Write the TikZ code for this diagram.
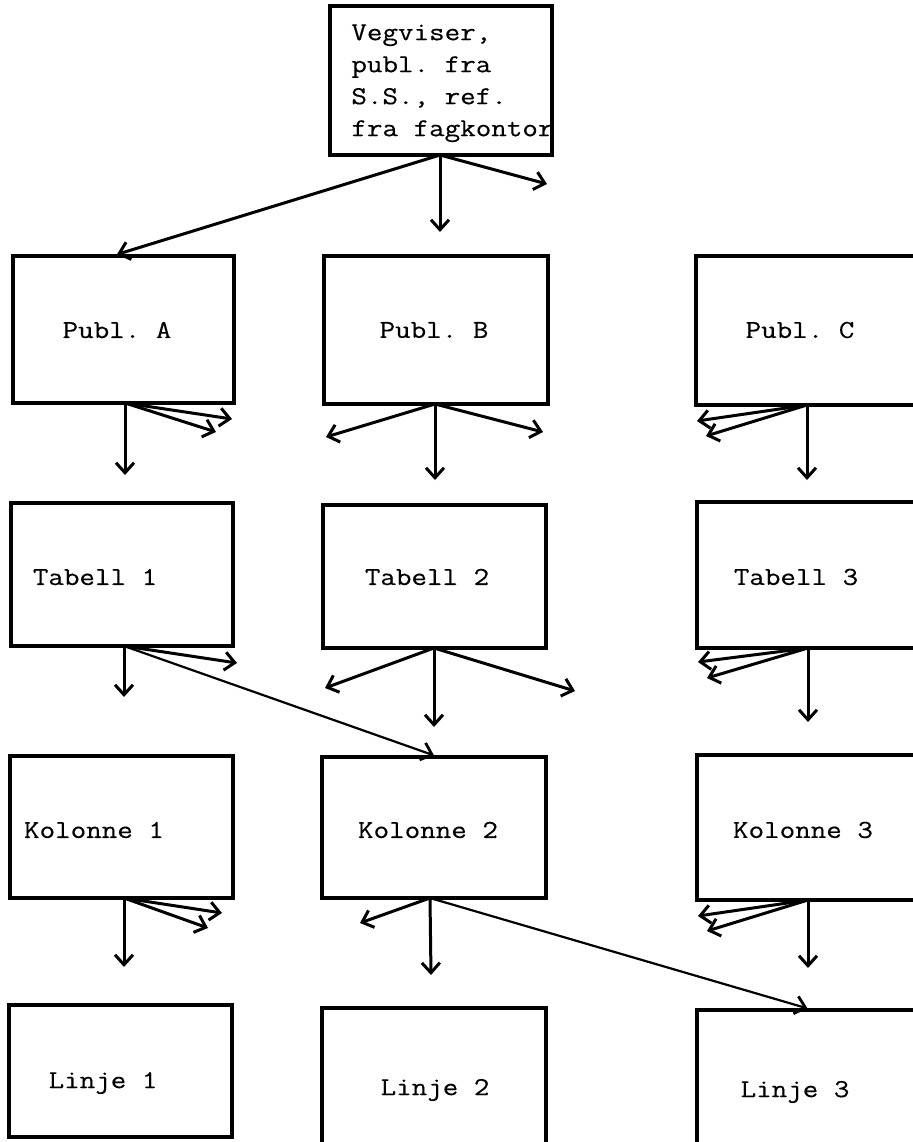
\documentclass[tikz,border=0pt]{standalone}
\usepackage{fontspec}
\setmonofont[FakeStretch=1.17,FakeBold=0.35]{Latin Modern Mono}
\usetikzlibrary{arrows.meta}
\tikzset{
  box/.style={draw, line width=1.6pt, inner sep=0pt},
  lbl/.style={font=\ttfamily\fontsize{12.9}{16}\selectfont, inner sep=0pt},
  arr/.style={line width=1.5pt, line cap=round, -{Straight Barb[length=5pt,width=9pt,line width=1.5pt]}},
  thinarr/.style={line width=1.1pt, line cap=round, -{Straight Barb[length=5pt,width=9pt,line width=1.4pt]}},
}
\begin{document}
\begin{tikzpicture}[x=0.5pt,y=-0.5pt]
\useasboundingbox[fill=white] (0,0) rectangle (912,1142);
% boxes
\node[box, minimum width=111pt, minimum height=74.5pt] (top) at (441,80.5) {};
\node[box, minimum width=110.5pt, minimum height=73.5pt] (pa) at (123.5,329.5) {};
\node[box, minimum width=112pt, minimum height=74pt] (pb) at (436,330) {};
\node[box, minimum width=111pt, minimum height=74.5pt] (pc) at (807,330.5) {};
\node[box, minimum width=111pt, minimum height=71.5pt] (t1) at (122,574.5) {};
\node[box, minimum width=111.5pt, minimum height=71.5pt] (t2) at (434.5,576.5) {};
\node[box, minimum width=110.5pt, minimum height=73pt] (t3) at (807.5,575) {};
\node[box, minimum width=111.5pt, minimum height=71pt] (k1) at (121.5,827) {};
\node[box, minimum width=112pt, minimum height=70.5pt] (k2) at (434,827.5) {};
\node[box, minimum width=110.5pt, minimum height=72.5pt] (k3) at (807.5,827.5) {};
\node[box, minimum width=111.5pt, minimum height=66pt] (l1) at (120.5,1071) {};
\node[box, minimum width=112pt, minimum height=71pt] (l2) at (434,1079) {};
\node[box, minimum width=110.5pt, minimum height=70pt] (l3) at (807.5,1080) {};
% texts
\node[lbl, anchor=north west, align=left] (topt) at (351,24) {Vegviser,\\publ. fra\\S.S., ref.\\fra fagkontor};
\node[lbl] (pat) at (117,330) {Publ. A};
\node[lbl] (pbt) at (434,330) {Publ. B};
\node[lbl] (pct) at (800,330) {Publ. C};
\node[lbl] (t1t) at (95,577) {Tabell 1};
\node[lbl] (t2t) at (427,577) {Tabell 2};
\node[lbl] (t3t) at (796,577) {Tabell 3};
\node[lbl] (k1t) at (94,830) {Kolonne 1};
\node[lbl] (k2t) at (428,830) {Kolonne 2};
\node[lbl] (k3t) at (803,830) {Kolonne 3};
\node[lbl] (l1t) at (103,1083) {Linje 1};
\node[lbl] (l2t) at (435,1090) {Linje 2};
\node[lbl] (l3t) at (795,1092) {Linje 3};
% arrow origins
\coordinate (o0) at (440,155);
\coordinate (oa) at (125,403);
\coordinate (ob) at (435,404);
\coordinate (oc) at (807,405);
\coordinate (o1) at (124,646);
\coordinate (o2) at (434,648);
\coordinate (o3) at (808,648);
\coordinate (ok1) at (124,898);
\coordinate (ok2) at (430,898);
\coordinate (ok3) at (808,900);
% free arrow tips
\coordinate (e0d) at (440,232);
\coordinate (e0r) at (547,184);
\coordinate (ead) at (125,475);
\coordinate (ear1) at (232,419);
\coordinate (ear2) at (216,432);
\coordinate (ebl) at (326,437);
\coordinate (ebd) at (435,480);
\coordinate (ebr) at (543,432);
\coordinate (ecl1) at (697,421);
\coordinate (ecl2) at (706,436);
\coordinate (ecd) at (807,480);
\coordinate (e1d) at (124,697);
\coordinate (e1r) at (237,663);
\coordinate (e2l) at (325,688);
\coordinate (e2d) at (434,727);
\coordinate (e2r) at (575,691);
\coordinate (e3l1) at (698,662);
\coordinate (e3l2) at (707,678);
\coordinate (e3d) at (808,722);
\coordinate (ek1d) at (124,967);
\coordinate (ek1r1) at (222,913);
\coordinate (ek1r2) at (208,928);
\coordinate (ek2l) at (360,923);
\coordinate (ek2d) at (431,975);
\coordinate (ek3l1) at (698,916);
\coordinate (ek3l2) at (707,931);
\coordinate (ek3d) at (808,968);
% connectors
\draw[arr] (o0) -- ([xshift=-3.25pt]pa.north);
\draw[arr] (o0) -- (e0d);
\draw[arr] (o0) -- (e0r);
\draw[arr] (oa) -- (ead);
\draw[arr] (oa) -- (ear1);
\draw[arr] (oa) -- (ear2);
\draw[arr] (ob) -- (ebl);
\draw[arr] (ob) -- (ebd);
\draw[arr] (ob) -- (ebr);
\draw[arr] (oc) -- (ecl1);
\draw[arr] (oc) -- (ecl2);
\draw[arr] (oc) -- (ecd);
\draw[arr] (o1) -- (e1d);
\draw[arr] (o1) -- (e1r);
\draw[thinarr] (o1) -- (k2.north);
\draw[arr] (o2) -- (e2l);
\draw[arr] (o2) -- (e2d);
\draw[arr] (o2) -- (e2r);
\draw[arr] (o3) -- (e3l1);
\draw[arr] (o3) -- (e3l2);
\draw[arr] (o3) -- (e3d);
\draw[arr] (ok1) -- (ek1d);
\draw[arr] (ok1) -- (ek1r1);
\draw[arr] (ok1) -- (ek1r2);
\draw[arr] (ok2) -- (ek2l);
\draw[arr] (ok2) -- (ek2d);
\draw[thinarr] (ok2) -- (l3.north);
\draw[arr] (ok3) -- (ek3l1);
\draw[arr] (ok3) -- (ek3l2);
\draw[arr] (ok3) -- (ek3d);
\end{tikzpicture}
\end{document}
